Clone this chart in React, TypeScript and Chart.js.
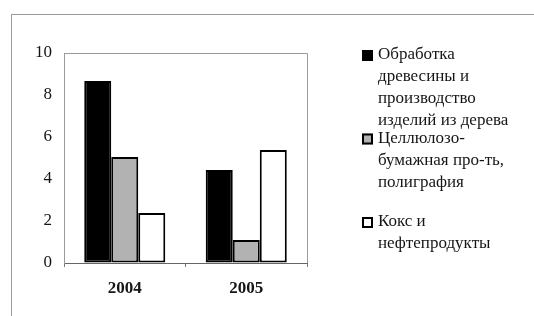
import React, { useEffect, useRef } from "react";
import { Chart, registerables } from "chart.js";

Chart.register(...registerables);

const categories = ["2004", "2005"];
const woodValues = [8.67, 4.43];
const pulpValues = [5.05, 1.1];
const cokeValues = [2.38, 5.38];

const woodLabel = ["Обработка", "древесины и", "производство", "изделий из дерева"];
const pulpLabel = ["Целлюлозо-", "бумажная про-ть,", "полиграфия"];
const cokeLabel = ["Кокс и", "нефтепродукты"];

const yMin = 0;
const yMax = 10;
const yStep = 2;

const FONT = "'Liberation Serif', 'Times New Roman', serif";
const TEXT = "#151515";

const legendLines = [woodLabel, pulpLabel, cokeLabel];

const framePlugin = {
  id: "plotFrame",
  beforeDatasetsDraw(chart: any) {
    const { ctx, chartArea } = chart;
    ctx.save();
    ctx.strokeStyle = "#9a9a9a";
    ctx.lineWidth = 1;
    ctx.beginPath();
    ctx.moveTo(chartArea.left, chartArea.top + 0.5);
    ctx.lineTo(chartArea.right + 0.5, chartArea.top + 0.5);
    ctx.lineTo(chartArea.right + 0.5, chartArea.bottom);
    ctx.stroke();
    ctx.restore();
  },
};

const legendPlugin = {
  id: "multiLegend",
  afterDraw(chart: any) {
    const { ctx } = chart;
    ctx.save();
    ctx.font = `17px ${FONT}`;
    ctx.textBaseline = "middle";
    ctx.textAlign = "left";
    chart.data.datasets.forEach((ds: any, i: number) => {
      const y0 = 55 + i * 83.5;
      ctx.fillStyle = ds.backgroundColor;
      ctx.fillRect(362, y0 - 5, 11, 11);
      ctx.strokeStyle = "#000";
      ctx.lineWidth = 2;
      ctx.strokeRect(363, y0 - 4, 9, 9);
      ctx.fillStyle = TEXT;
      legendLines[i].forEach((line, k) => {
        ctx.fillText(line, 378, y0 + k * 22);
      });
    });
    ctx.restore();
  },
};

export default function App() {
  const ref = useRef<HTMLCanvasElement>(null);

  useEffect(() => {
    const chart = new Chart(ref.current!, {
      type: "bar",
      data: {
        labels: categories,
        datasets: [
          {
            label: woodLabel.join(" "),
            data: woodValues,
            backgroundColor: "#000000",
            borderColor: "#000000",
            borderWidth: 2,
            borderSkipped: false,
            categoryPercentage: 0.667,
            barPercentage: 1,
          },
          {
            label: pulpLabel.join(" "),
            data: pulpValues,
            backgroundColor: "#b2b2b2",
            borderColor: "#000000",
            borderWidth: 2,
            borderSkipped: false,
            categoryPercentage: 0.667,
            barPercentage: 1,
          },
          {
            label: cokeLabel.join(" "),
            data: cokeValues,
            backgroundColor: "#ffffff",
            borderColor: "#000000",
            borderWidth: 2,
            borderSkipped: false,
            categoryPercentage: 0.667,
            barPercentage: 1,
          },
        ],
      },
      options: {
        responsive: false,
        animation: false,
        devicePixelRatio: 1,
        layout: { padding: { top: 53, right: 227, left: 0, bottom: 0 } },
        plugins: {
          legend: { display: false },
          tooltip: { enabled: false },
        },
        scales: {
          x: {
            grid: {
              display: true,
              drawOnChartArea: false,
              drawTicks: true,
              tickLength: 4,
              color: "#777",
              offset: true,
            },
            border: { display: true, color: "#666", width: 1 },
            ticks: {
              color: TEXT,
              padding: 11,
              font: { family: FONT, size: 17, weight: "bold" },
            },
            afterFit: (s: any) => {
              s.height = 53;
            },
          },
          y: {
            min: yMin,
            max: yMax,
            grid: { display: true, drawOnChartArea: false, drawTicks: false },
            border: { display: true, color: "#9a9a9a", width: 1 },
            ticks: {
              stepSize: yStep,
              color: TEXT,
              padding: 12,
              font: { family: FONT, size: 17 },
            },
            afterFit: (s: any) => {
              s.width = 64;
            },
          },
        },
      },
      plugins: [framePlugin, legendPlugin],
    } as any);
    return () => chart.destroy();
  }, []);

  return (
    <div>
      <div
        style={{
          position: "fixed",
          left: 11,
          top: 14,
          right: 0,
          bottom: 0,
          borderTop: "1px solid #9a9a9a",
          borderLeft: "1px solid #9a9a9a",
          background: "#fff",
        }}
      />
      <canvas
        ref={ref}
        width={534}
        height={316}
        style={{ position: "fixed", left: 0, top: 0, width: 534, height: 316 }}
      />
    </div>
  );
}
